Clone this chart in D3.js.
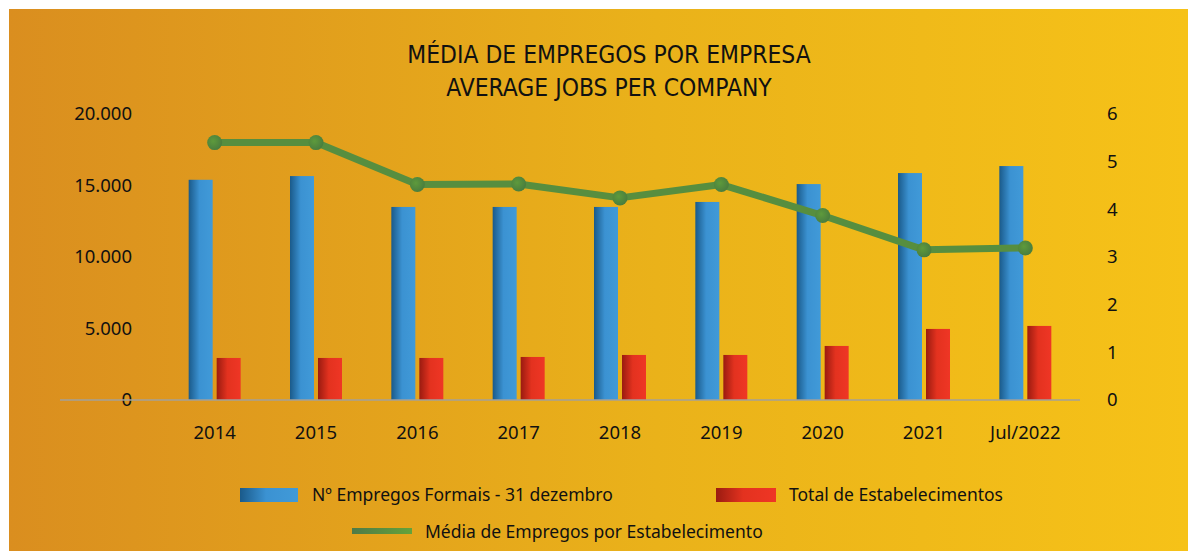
<!DOCTYPE html>
<html><head><meta charset="utf-8">
<script src="https://cdn.jsdelivr.net/npm/d3@7"></script>
<style>
html,body{margin:0;padding:0;background:#fff;}
svg{display:block;}
text{font-family:"Noto Sans","DejaVu Sans",sans-serif;fill:#111;}
.title{font-family:"Liberation Sans Narrow","DejaVu Sans Condensed",sans-serif;}
</style>
</head><body>
<svg id="chart" width="1188" height="551"></svg>
<script>
const categories = ["2014","2015","2016","2017","2018","2019","2020","2021","Jul/2022"];
const empregos = [15400, 15660, 13500, 13500, 13500, 13850, 15100, 15870, 16360];
const estabelecimentos = [2940, 2940, 2940, 3010, 3150, 3150, 3780, 4970, 5180];
const media = [5.40, 5.40, 4.52, 4.53, 4.24, 4.52, 3.87, 3.15, 3.19];
const leftTicks = [0, 5000, 10000, 15000, 20000];
const rightTicks = [0, 1, 2, 3, 4, 5, 6];
const titleLines = ["MÉDIA DE EMPREGOS POR EMPRESA", "AVERAGE JOBS PER COMPANY"];
const legendLabels = ["Nº Empregos Formais - 31 dezembro", "Total de Estabelecimentos", "Média de Empregos por Estabelecimento"];

const svg = d3.select("#chart");
const defs = svg.append("defs");
function grad(id, stops, x2="100%", y2="0%") {
  const g = defs.append("linearGradient").attr("id", id).attr("x1","0%").attr("y1","0%").attr("x2",x2).attr("y2",y2);
  stops.forEach(s => g.append("stop").attr("offset", s[0]).attr("stop-color", s[1]));
}
grad("bg", [["0%","#DA8E1F"],["55%","#EAB21A"],["100%","#F6C218"]]);
grad("blue", [["0%","#1A5A8A"],["45%","#3B92D2"],["100%","#419AD8"]]);
grad("red", [["0%","#9A1B10"],["45%","#E3321F"],["100%","#EF3625"]]);
grad("green", [["0%","#4E7A48"],["100%","#65A33A"]]);
const rg = defs.append("radialGradient").attr("id","dot").attr("cx","40%").attr("cy","40%").attr("r","60%");
rg.append("stop").attr("offset","0%").attr("stop-color","#5E9A3C");
rg.append("stop").attr("offset","100%").attr("stop-color","#4A7E3E");

svg.append("rect").attr("x",9).attr("y",9).attr("width",1179).attr("height",542).attr("fill","url(#bg)");

// title
svg.append("g").selectAll("text").data(titleLines).join("text")
  .attr("class","title").attr("x",609).attr("y",(d,i)=>63+i*33)
  .attr("text-anchor","middle").attr("font-size",24.4).text(d=>d);

const x = d3.scaleBand().domain(categories).range([164, 1076]);
const yL = d3.scaleLinear().domain([0, 20000]).range([400, 114]);
const yR = d3.scaleLinear().domain([0, 6]).range([400, 114]);
const fmt = d => d3.format(",")(d).replace(/,/g, ".");

// left axis labels
svg.append("g").selectAll("text").data(leftTicks).join("text")
  .attr("x",132).attr("y",d=>yL(d)).attr("dy","0.35em").attr("text-anchor","end")
  .attr("font-size",18.5).text(fmt);
// right axis labels
svg.append("g").selectAll("text").data(rightTicks).join("text")
  .attr("x",1107).attr("y",d=>yR(d)).attr("dy","0.35em").attr("text-anchor","start")
  .attr("font-size",18.5).text(d=>d);

// bars
const bw = 24;
const gb = svg.append("g");
gb.selectAll("rect.b").data(categories).join("rect").attr("class","b")
  .attr("x",d=>x(d)+x.bandwidth()/2-bw-2).attr("width",bw)
  .attr("y",(d,i)=>yL(empregos[i])).attr("height",(d,i)=>yL(0)-yL(empregos[i]))
  .attr("fill","url(#blue)");
gb.selectAll("rect.r").data(categories).join("rect").attr("class","r")
  .attr("x",d=>x(d)+x.bandwidth()/2+2).attr("width",bw)
  .attr("y",(d,i)=>yL(estabelecimentos[i])).attr("height",(d,i)=>yL(0)-yL(estabelecimentos[i]))
  .attr("fill","url(#red)");

// baseline
svg.append("line").attr("x1",60).attr("x2",1080).attr("y1",yL(0)).attr("y2",yL(0))
  .attr("stroke","#A3A09A").attr("stroke-width",1.5);

// x labels
svg.append("g").selectAll("text").data(categories).join("text")
  .attr("x",d=>x(d)+x.bandwidth()/2).attr("y",433).attr("dy","0.35em")
  .attr("text-anchor","middle").attr("font-size",18.5).text(d=>d);

// line
const line = d3.line().x((d,i)=>x(categories[i])+x.bandwidth()/2).y(d=>yR(d));
svg.append("path").datum(media).attr("d",line).attr("fill","none")
  .attr("stroke","#578E3F").attr("stroke-width",7).attr("stroke-linejoin","round");
svg.append("g").selectAll("circle").data(media).join("circle")
  .attr("cx",(d,i)=>x(categories[i])+x.bandwidth()/2).attr("cy",d=>yR(d)).attr("r",7.5)
  .attr("fill","url(#dot)");

// legend
const lg = svg.append("g");
lg.append("rect").attr("x",240).attr("y",488).attr("width",58).attr("height",14).attr("fill","url(#blue)");
lg.append("text").attr("x",312).attr("y",495).attr("dy","0.35em").attr("font-size",17.5).text(legendLabels[0]);
lg.append("rect").attr("x",716).attr("y",488).attr("width",60).attr("height",14).attr("fill","url(#red)");
lg.append("text").attr("x",789).attr("y",495).attr("dy","0.35em").attr("font-size",17.5).text(legendLabels[1]);
lg.append("rect").attr("x",352).attr("y",528).attr("width",60).attr("height",6).attr("fill","url(#green)");
lg.append("text").attr("x",425).attr("y",532).attr("dy","0.35em").attr("font-size",17.5).text(legendLabels[2]);
</script>
</body></html>
